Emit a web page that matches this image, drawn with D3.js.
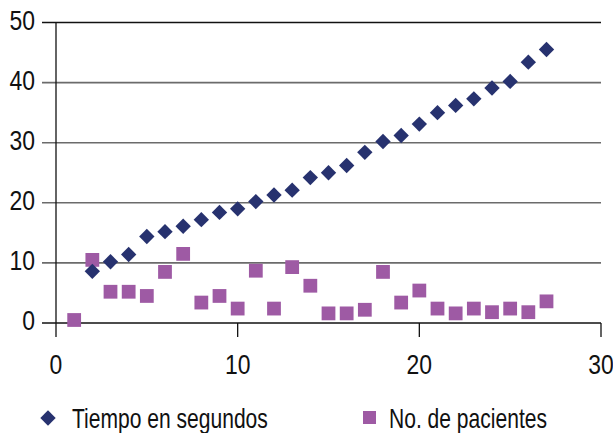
<!DOCTYPE html>
<html>
<head>
<meta charset="utf-8">
<script src="https://cdn.jsdelivr.net/npm/d3@7"></script>
<style>
  body { margin: 0; background: #fff; }
  svg text { font-family: "Liberation Sans", Arial, sans-serif; fill: #111; }
</style>
</head>
<body>
<svg id="chart" width="613" height="433"></svg>
<script>
// series data
var tiempoX = [2, 3, 4, 5, 6, 7, 8, 9, 10, 11, 12, 13, 14, 15, 16, 17, 18, 19, 20, 21, 22, 23, 24, 25, 26, 27];
var tiempoY = [8.6, 10.2, 11.4, 14.4, 15.2, 16.1, 17.2, 18.4, 19.0, 20.2, 21.3, 22.1, 24.2, 25.0, 26.2, 28.4, 30.2, 31.2, 33.1, 35.0, 36.2, 37.3, 39.1, 40.2, 43.4, 45.5];
var pacientesX = [1, 2, 3, 4, 5, 6, 7, 8, 9, 10, 11, 12, 13, 14, 15, 16, 17, 18, 19, 20, 21, 22, 23, 24, 25, 26, 27];
var pacientesY = [0.5, 10.5, 5.2, 5.2, 4.5, 8.5, 11.5, 3.4, 4.5, 2.4, 8.7, 2.4, 9.3, 6.2, 1.6, 1.6, 2.2, 8.5, 3.4, 5.4, 2.4, 1.6, 2.4, 1.8, 2.4, 1.8, 3.6];
var xTicks = [0, 10, 20, 30];
var yTicks = [0, 10, 20, 30, 40, 50];
var seriesNames = ["Tiempo en segundos", "No. de pacientes"];

var svg = d3.select("#chart");
var x = d3.scaleLinear().domain([0, 30]).range([56, 601]);
var y = d3.scaleLinear().domain([0, 50]).range([323, 22.5]);

// horizontal grid lines (with outward ticks to the left)
svg.append("g")
  .selectAll("line")
  .data(yTicks)
  .enter().append("line")
    .attr("x1", 42).attr("x2", x(30))
    .attr("y1", function(d) { return y(d); })
    .attr("y2", function(d) { return y(d); })
    .attr("stroke", function(d) { return (d === 0 || d === 50) ? "#111" : "#6b6b6b"; })
    .attr("stroke-width", function(d) { return (d === 0 || d === 50) ? 1.3 : 1.6; });

// y axis line
svg.append("line")
  .attr("x1", x(0)).attr("x2", x(0))
  .attr("y1", y(50)).attr("y2", y(0) + 14)
  .attr("stroke", "#111").attr("stroke-width", 1.3);

// x ticks
svg.append("g")
  .selectAll("line")
  .data(xTicks.slice(1))
  .enter().append("line")
    .attr("x1", function(d) { return x(d); })
    .attr("x2", function(d) { return x(d); })
    .attr("y1", y(0)).attr("y2", y(0) + 14)
    .attr("stroke", "#111").attr("stroke-width", 1.3);

// tick labels (the original font is a condensed sans, so squeeze horizontally)
svg.append("g")
  .selectAll("text")
  .data(yTicks)
  .enter().append("text")
    .attr("transform", function(d) { return "translate(35," + (y(d) - 2) + ") scale(0.85,1)"; })
    .attr("dy", "0.35em")
    .attr("text-anchor", "end")
    .style("font-size", "27px")
    .text(function(d) { return d; });

svg.append("g")
  .selectAll("text")
  .data(xTicks)
  .enter().append("text")
    .attr("transform", function(d) { return "translate(" + x(d) + ",374) scale(0.85,1)"; })
    .attr("text-anchor", "middle")
    .style("font-size", "27px")
    .text(function(d) { return d; });

// markers
var diamond = d3.symbol().type(d3.symbolSquare).size(118);
var square = d3.symbol().type(d3.symbolSquare).size(190);

svg.append("g")
  .selectAll("path")
  .data(pacientesX)
  .enter().append("path")
    .attr("d", square)
    .attr("transform", function(d, i) { return "translate(" + x(d) + "," + y(pacientesY[i]) + ")"; })
    .attr("fill", "#9e5aa4");

svg.append("g")
  .selectAll("path")
  .data(tiempoX)
  .enter().append("path")
    .attr("d", diamond)
    .attr("transform", function(d, i) { return "translate(" + x(d) + "," + y(tiempoY[i]) + ") rotate(45)"; })
    .attr("fill", "#27326f");

// legend
var legend = svg.append("g");
legend.append("path")
  .attr("d", diamond)
  .attr("transform", "translate(48,418) rotate(45)")
  .attr("fill", "#27326f");
legend.append("text")
  .attr("transform", "translate(72,428) scale(0.78,1)")
  .style("font-size", "27px")
  .text(seriesNames[0]);
legend.append("path")
  .attr("d", d3.symbol().type(d3.symbolSquare).size(170))
  .attr("transform", "translate(369.5,417.5)")
  .attr("fill", "#9e5aa4");
legend.append("text")
  .attr("transform", "translate(389,428) scale(0.78,1)")
  .style("font-size", "27px")
  .text(seriesNames[1]);
</script>
</body>
</html>
